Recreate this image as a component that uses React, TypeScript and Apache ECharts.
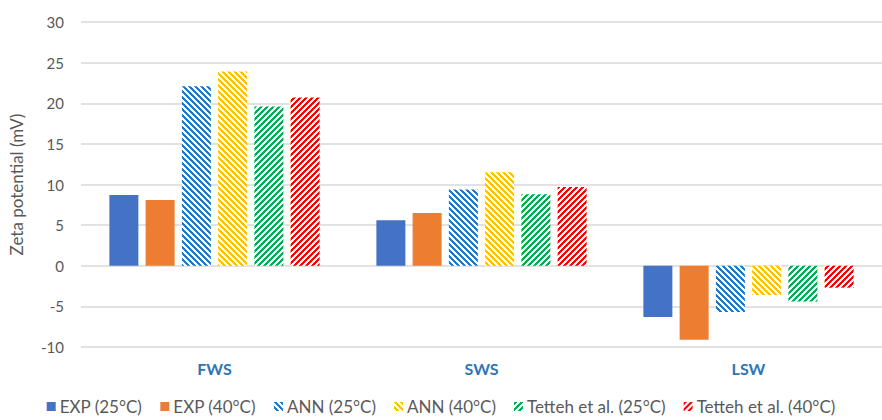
import React, { useEffect, useRef } from "react";
import * as echarts from "echarts";

const categories = ["FWS", "SWS", "LSW"];
const seriesNames = [
  "EXP (25°C)",
  "EXP (40°C)",
  "ANN (25°C)",
  "ANN (40°C)",
  "Tetteh et al. (25°C)",
  "Tetteh et al. (40°C)",
];
const exp25 = [8.7, 5.6, -6.3];
const exp40 = [8.1, 6.5, -9.1];
const ann25 = [22.1, 9.4, -5.7];
const ann40 = [23.9, 11.5, -3.6];
const tetteh25 = [19.6, 8.8, -4.4];
const tetteh40 = [20.7, 9.7, -2.7];
const yTicks = { min: -10, max: 30, interval: 5 };

function stripe(color: string, dir: "back" | "fwd") {
  const size = 12;
  const period = 6;
  const c = document.createElement("canvas");
  c.width = size;
  c.height = size;
  const ctx = c.getContext("2d")!;
  ctx.fillStyle = "#ffffff";
  ctx.fillRect(0, 0, size, size);
  ctx.fillStyle = color;
  for (let y = 0; y < size; y++) {
    for (let x = 0; x < size; x++) {
      const v =
        dir === "back"
          ? (((x - y) % period) + period) % period
          : (x + y) % period;
      if (v < 3) ctx.fillRect(x, y, 1, 1);
    }
  }
  return {
    image: c.toDataURL(),
    repeat: "repeat",
    imageWidth: size,
    imageHeight: size,
  } as any;
}

export default function App() {
  const ref = useRef<HTMLDivElement>(null);
  useEffect(() => {
    if (!ref.current) return;
    const chart = echarts.init(ref.current, undefined, { renderer: "svg" });
    const font = "Lato, 'Open Sans', sans-serif";
    const datasets = [exp25, exp40, ann25, ann40, tetteh25, tetteh40];
    const colors: any[] = [
      "#4472C4",
      "#ED7D31",
      stripe("#1F78C8", "back"),
      stripe("#FFC000", "back"),
      stripe("#00B050", "fwd"),
      stripe("#FF0000", "fwd"),
    ];
    chart.setOption({
      animation: false,
      textStyle: { fontFamily: font },
      grid: { left: 77, top: 22, width: 813, height: 325, containLabel: false },
      legend: {
        bottom: 0,
        left: "center",
        itemWidth: 9,
        itemHeight: 9,
        itemGap: 18,
        icon: "rect",
        textStyle: { fontFamily: font, fontSize: 17, color: "#595959", padding: [0, 0, 0, -1] },
        data: seriesNames,
      },
      xAxis: {
        type: "category",
        data: categories,
        axisLine: { show: false, onZero: false },
        axisTick: { show: false },
        axisLabel: {
          margin: 13,
          fontFamily: font,
          fontSize: 16,
          fontWeight: "bold",
          color: "#2E75B6",
        },
      },
      yAxis: {
        type: "value",
        min: yTicks.min,
        max: yTicks.max,
        interval: yTicks.interval,
        name: "Zeta potential (mV)",
        nameLocation: "middle",
        nameGap: 56,
        nameTextStyle: { fontFamily: font, fontSize: 17, color: "#595959" },
        axisLabel: { margin: 17, fontFamily: font, fontSize: 15, color: "#595959" },
        axisLine: { show: false },
        axisTick: { show: false },
        splitLine: { lineStyle: { color: "#D9D9D9", width: 1.5 } },
      },
      series: datasets.map((d, i) => ({
        name: seriesNames[i],
        type: "bar",
        data: d,
        barWidth: 29,
        barGap: "25%",
        itemStyle: { color: colors[i] },
      })),
    });
    return () => chart.dispose();
  }, []);
  return (
    <div
      ref={ref}
      style={{ position: "fixed", left: 0, top: 0, width: 882, height: 420, background: "#fff" }}
    />
  );
}
